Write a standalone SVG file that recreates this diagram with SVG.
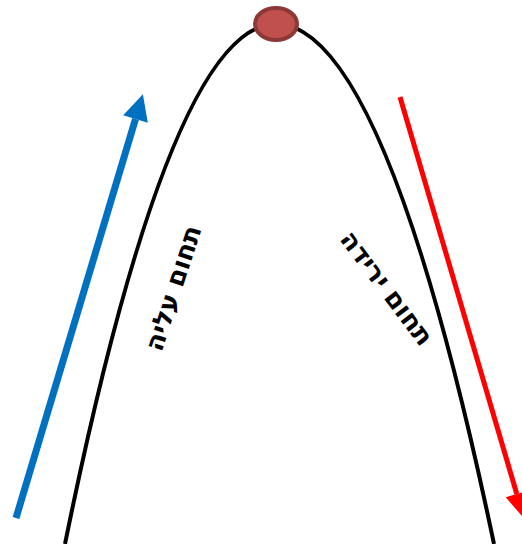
<svg xmlns="http://www.w3.org/2000/svg" width="522" height="544" viewBox="0 0 522 544">
<style>
.lbl{font-family:"DejaVu Sans","Liberation Sans",sans-serif;font-weight:bold;font-size:26px;fill:#000;}
</style>
<defs>
<marker id="hb" markerUnits="userSpaceOnUse" markerWidth="30" markerHeight="30" refX="0" refY="0" viewBox="-2 -14 28 28" orient="auto" overflow="visible">
<path d="M24,0 L0,-12 L0,12 z" fill="#0070C0"/>
</marker>
<marker id="hr" markerUnits="userSpaceOnUse" markerWidth="30" markerHeight="30" refX="0" refY="0" viewBox="-2 -12 26 24" orient="auto" overflow="visible">
<path d="M22,0 L0,-10 L0,10 z" fill="#FF0000"/>
</marker>
</defs>
<g id="curve">
<path d="M65,544 Q170.5,24 276,24 Q385,24 494,544" fill="none" stroke="#000" stroke-width="4"/>
</g>
<g id="connectors">
<line x1="16" y1="518" x2="135.5" y2="119" stroke="#0070C0" stroke-width="7" marker-end="url(#hb)"/>
<line x1="400" y1="97" x2="516.8" y2="494" stroke="#FF0000" stroke-width="5" marker-end="url(#hr)"/>
</g>
<g id="peak">
<ellipse cx="276" cy="24" rx="21" ry="16" fill="#C0504D" stroke="#8C3836" stroke-width="4"/>
</g>
<g id="label-up">
<text class="lbl" x="0" y="9" text-anchor="middle" transform="translate(173,288) rotate(-72)">תחום עליה</text>
</g>
<g id="label-down">
<text class="lbl" x="0" y="9" text-anchor="middle" transform="translate(387,288) rotate(53)">תחום ירידה</text>
</g>
</svg>
